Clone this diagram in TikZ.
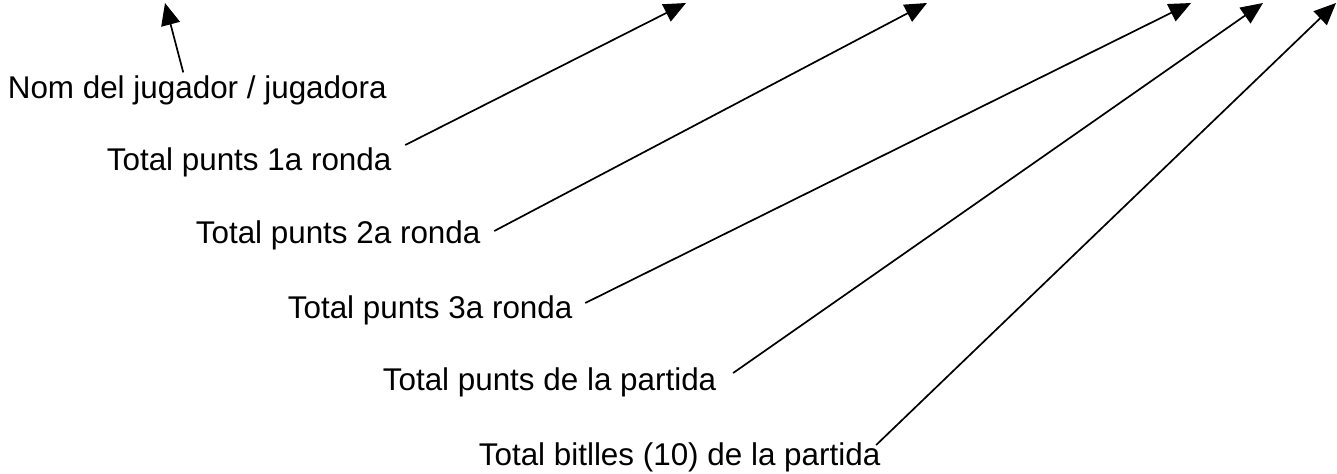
\documentclass[tikz,border=0pt]{standalone}
\usepackage{fontspec}
\setsansfont{Liberation Sans}
\usetikzlibrary{math,arrows.meta}

\begin{document}
\begin{tikzpicture}[x=0.5pt, y=-0.5pt, line width=0.85pt,
  fieldtext/.style={anchor=base west, inner sep=0pt, font=\sffamily\fontsize{15.7}{18}\selectfont},
  pointer/.style={-{Triangle[length=11pt, width=9.5pt]}}]
  \tikzmath{%
    \tipy = 3;
    \anom = 165; \aone = 686; \atwo = 927; \athree = 1191; \atot = 1263; \abit = 1336;
  }
  \useasboundingbox (0,0) rectangle (1337,473);

  \node[fieldtext] (nom) at (7,98) {Nom del jugador / jugadora};
  \node[fieldtext] (ronda1) at (106,170) {Total punts 1a ronda};
  \node[fieldtext] (ronda2) at (195,243) {Total punts 2a ronda};
  \node[fieldtext] (ronda3) at (287,318) {Total punts 3a ronda};
  \node[fieldtext] (partida) at (382,390) {Total punts de la partida};
  \node[fieldtext] (bitlles) at (478,465) {Total bitlles (10) de la partida};

  \coordinate (cnom) at (\anom,\tipy);
  \coordinate (cronda1) at (\aone,\tipy);
  \coordinate (cronda2) at (\atwo,\tipy);
  \coordinate (cronda3) at (\athree,\tipy);
  \coordinate (cpartida) at (\atot,\tipy);
  \coordinate (cbitlles) at (\abit,\tipy);

  \draw[pointer] ([shift={(-14,-2)}]nom.north) -- (cnom);
  \draw[pointer] ([shift={(13,-25)}]ronda1.base east) -- (cronda1);
  \draw[pointer] ([shift={(13,-12)}]ronda2.base east) -- (cronda2);
  \draw[pointer] ([shift={(12,-15)}]ronda3.base east) -- (cronda3);
  \draw[pointer] ([shift={(16,-17)}]partida.base east) -- (cpartida);
  \draw[pointer] ([shift={(-5,-20)}]bitlles.base east) -- (cbitlles);
\end{tikzpicture}
\end{document}
